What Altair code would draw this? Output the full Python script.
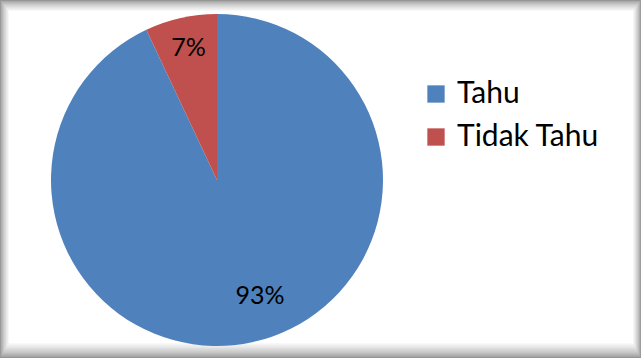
import altair as alt
import pandas as pd

# Data
categories = ["Tahu", "Tidak Tahu"]
values = [93, 7]
labels = ["93%", "7%"]
colors = ["#4F81BD", "#C0504D"]

df = pd.DataFrame({"kategori": categories, "nilai": values, "label": labels,
                   "urut": list(range(len(categories)))})

W, H = 641, 358
CX, CY, R = 217, 180, 166
FONT = "Lato"

# Soft frame (decoration)
frame_layers = []
N = 12
insets = dict(l=9, t=11, r=8, b=15)
one = pd.DataFrame({"a": [0]})
for k in range(N + 1):
    f = k / N
    g = int(150 + (255 - 150) * (f ** 0.7))
    col = "#%02x%02x%02x" % (g, g, g)
    frame_layers.append(
        alt.Chart(one).mark_rect(fill=col, stroke=None).encode(
            x=alt.value(insets["l"] * f), x2=alt.value(W - insets["r"] * f),
            y=alt.value(insets["t"] * f), y2=alt.value(H - insets["b"] * f)))

base = alt.Chart(df)

pie = base.mark_arc(radius=R).encode(
    theta=alt.Theta("nilai:Q", stack=True),
    order=alt.Order("urut:Q"),
    color=alt.Color("kategori:N",
                    scale=alt.Scale(domain=categories, range=colors),
                    sort=categories,
                    legend=alt.Legend(title=None, orient="none", legendX=421, legendY=79,
                                      symbolType="square", symbolSize=300,
                                      symbolStrokeWidth=0, labelFont=FONT,
                                      labelFontSize=30, labelColor="#000000",
                                      labelOffset=6, rowPadding=13,
                                      labelLimit=300)),
    x=alt.value(CX), y=alt.value(CY))


def lab(cat, radius, dx, dy):
    return base.transform_stack(
        stack="nilai", groupby=[], as_=["s0", "s1"], sort=[alt.SortField("urut")]
    ).transform_calculate(
        mid="(datum.s0 + datum.s1) / 2"
    ).transform_filter(alt.datum.kategori == cat).mark_text(
        font=FONT, fontSize=25, color="#000000", align="center",
        baseline="middle", dx=dx, dy=dy).encode(
        theta=alt.Theta("mid:Q", scale=alt.Scale(domain=[0, sum(values)], range=[0, 6.283185307179586]),
                        stack=None),
        text="label:N",
        radius=alt.value(radius),
        x=alt.value(CX), y=alt.value(CY))


t93 = lab("Tahu", 124, 16, -5)
t7 = lab("Tidak Tahu", 135, 1, 0)

chart = alt.layer(*frame_layers, pie, t93, t7).properties(
    width=W, height=H, padding=0, autosize=alt.AutoSizeParams(type="none")
).configure_view(stroke=None).configure(background="#ffffff")

chart.save("out.html", embed_options={"renderer": "svg", "actions": False})
